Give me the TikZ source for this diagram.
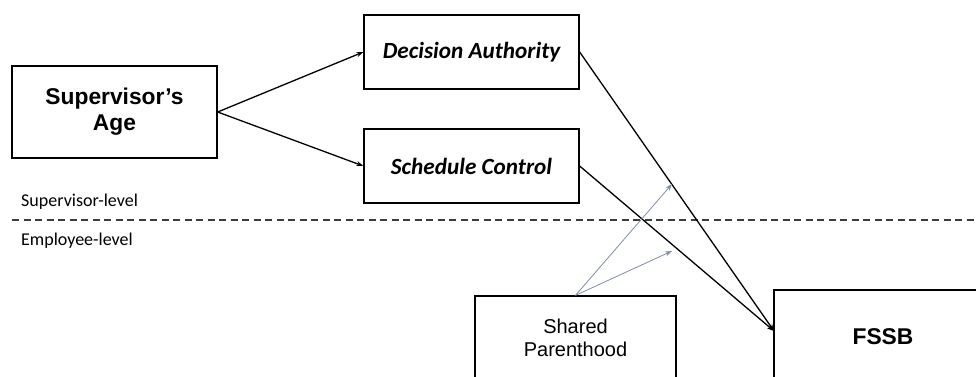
\documentclass[tikz,border=0pt]{standalone}
\usepackage{fontspec}
\setmainfont{Liberation Sans}
\newfontfamily\calib{Carlito}
\usetikzlibrary{arrows.meta}
\definecolor{grayarrow}{RGB}{128,140,165}
\definecolor{dashgray}{RGB}{60,60,60}
\tikzset{
  box/.style={draw=black, line width=1.3pt, inner sep=0pt, align=center},
  conn/.style={line width=1.3pt, -{Stealth[length=7pt,width=5pt]}},
  modconn/.style={line width=0.8pt, draw=grayarrow, -{Stealth[length=7pt,width=5pt]}},
  lvl/.style={anchor=west, inner sep=0pt, font=\calib\fontsize{18}{20}\selectfont}
}
\begin{document}
\begin{tikzpicture}[x=1pt,y=-1pt]
\useasboundingbox (0,0) rectangle (976,376);
\clip (0,0) rectangle (976,376);
\node[box, minimum width=205pt, minimum height=92pt, font=\bfseries\fontsize{22.8}{26}\selectfont] (age) at (114.5,112) {Supervisor’s\\Age};
\node[box, minimum width=215pt, minimum height=74pt, font=\calib\bfseries\itshape\fontsize{23.2}{26}\selectfont] (da) at (471.5,52) {Decision Authority};
\node[box, minimum width=215pt, minimum height=74pt, font=\calib\bfseries\itshape\fontsize{23.2}{26}\selectfont] (sc) at (471.5,166) {Schedule Control};
\node[box, minimum width=201pt, minimum height=84pt, font=\fontsize{20}{23.5}\selectfont] (sp) at (575.5,338) {Shared\\Parenthood};
\node[box, minimum width=218pt, minimum height=94pt, font=\bfseries\fontsize{22.8}{26}\selectfont] (fssb) at (883,337) {FSSB};
\node[lvl] (suplvl) at (21,202) {Supervisor-level};
\node[lvl] (emplvl) at (21,241) {Employee-level};
\coordinate (dl) at (12,220);
\coordinate (dr) at (980,220);
\draw[dashgray, line width=1.2pt, dash pattern=on 7pt off 4.5pt] (dl) -- (dr);
\coordinate (tgt) at (774,331);
\coordinate (m1) at (672,184);
\coordinate (m2) at (672,251);
\draw[conn] (age.east) -- (da.west);
\draw[conn] (age.east) -- (sc.west);
\draw[conn] (da.east) -- (tgt);
\draw[conn] (sc.east) -- (tgt);
\draw[modconn] (sp.north) -- (m1);
\draw[modconn] (sp.north) -- (m2);
\end{tikzpicture}
\end{document}
